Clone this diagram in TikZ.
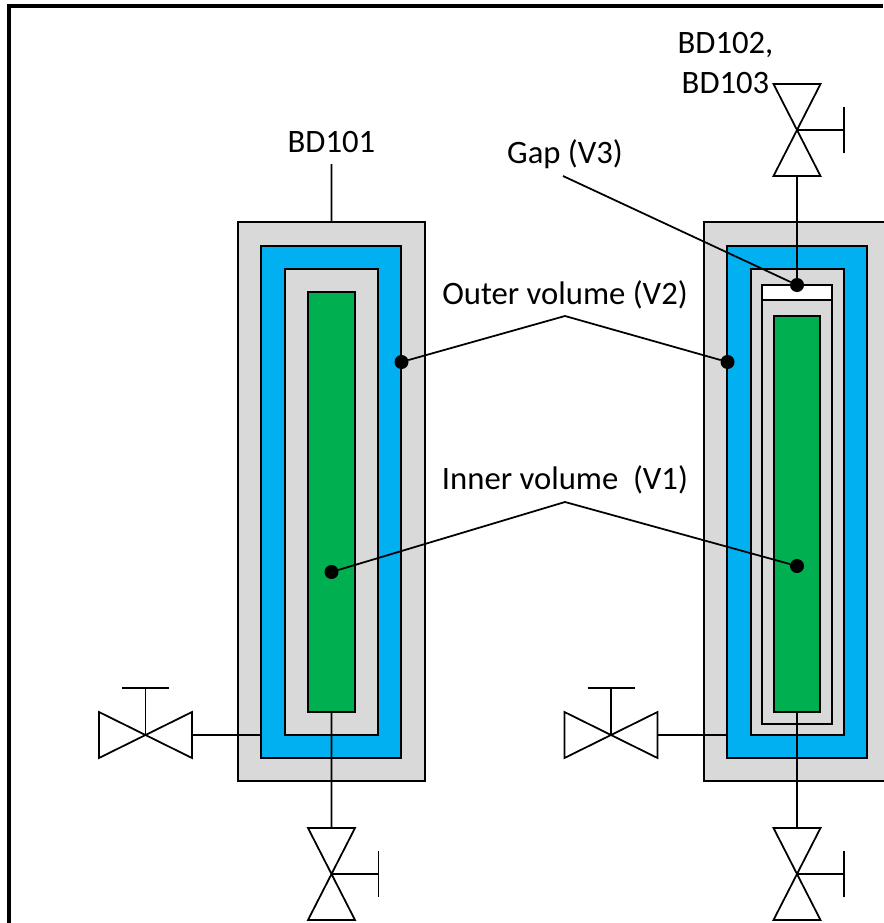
\documentclass[tikz,border=0pt]{standalone}
\usepackage{fontspec}
\setmainfont{Carlito}
\usepackage{xcolor}
\usepackage{tikz}
\definecolor{shellgray}{HTML}{D9D9D9}
\definecolor{jacketblue}{HTML}{00B0F0}
\definecolor{coregreen}{HTML}{00B050}
\tikzset{
x=0.02cm, % one unit is one pixel of the layout
y=-0.02cm,
every node/.style={inner sep=0pt, outer sep=0pt},
wall/.style={draw=black, line width=1.1pt, rectangle},
shell/.style={wall, fill=shellgray}, % grey walls
jacket/.style={wall, fill=jacketblue}, % outer volume
core/.style={wall, fill=coregreen}, % inner volume
gapbox/.style={wall, fill=white},
label/.style={font=\fontsize{18.6}{22}\selectfont, text=black},
dot/.style={circle, fill=black, minimum size=0.28cm},
leader/.style={draw=black, line width=1pt},
valvedown/.pic={ % body vertical, handle to the right
\draw[leader, fill=white, line join=miter] (-23.5,-46) -- (23.5,-46) -- (-23.5,46) -- (23.5,46) -- cycle;
\draw[leader] (0,0) -- (47,0) (47,-23) -- (47,23);
\coordinate (-top) at (0,-46);
\coordinate (-bottom) at (0,46);
},
valveside/.pic={ % body horizontal, handle on top
\draw[leader, fill=white, line join=miter] (-46.5,-23) -- (-46.5,23) -- (46.5,-23) -- (46.5,23) -- cycle;
\draw[leader] (0,0) -- (0,-47) (-23.5,-47) -- (23.5,-47);
\coordinate (-right) at (46.5,0);
},
}

\begin{document}
\begin{tikzpicture}
        \useasboundingbox (0,0) rectangle (883,923);
        \coordinate (framea) at (9,923);
        \coordinate (frameb) at (9,6);
        \coordinate (framec) at (883,6);
        \draw[line width=1.8pt] (framea) -- (frameb) -- (framec);

        % left vessel
        \node[shell, minimum width=3.74cm, minimum height=11.18cm] (outerA) at (331.5,501.5) {};
        \node[jacket, minimum width=2.80cm, minimum height=10.24cm] (jacketA) at (331,502) {};
        \node[shell, minimum width=1.86cm, minimum height=9.32cm] (wallA) at (331.5,502) {};
        \node[core, minimum width=0.94cm, minimum height=8.40cm] (coreA) at (331.5,502) {};

        % right vessel
        \node[shell, minimum width=3.74cm, minimum height=11.18cm] (outerB) at (797.5,501.5) {};
        \node[jacket, minimum width=2.80cm, minimum height=10.24cm] (jacketB) at (797,502) {};
        \node[shell, minimum width=1.86cm, minimum height=9.32cm] (wallB) at (797.5,502) {};
        \node[gapbox, minimum width=1.40cm, minimum height=8.78cm] (gapB) at (797,504.5) {};
        \node[shell, minimum width=1.40cm, minimum height=8.48cm] (innerB) at (797,512) {};
        \node[core, minimum width=0.92cm, minimum height=7.92cm] (coreB) at (797,514) {};

        % valves
        \pic (valveA) at (331.5,874) {valvedown};
        \pic (valveB) at (797,874) {valvedown};
        \pic (valveC) at (797,130) {valvedown};
        \pic (valveD) at (145.5,735) {valveside};
        \pic (valveE) at (611,735) {valveside};

        % dots
        \node[dot] (dotouterA) at (401.5,362) {};
        \node[dot] (dotouterB) at (727.5,362) {};
        \node[dot] (dotinnerA) at (331.5,572) {};
        \node[dot] (dotinnerB) at (797,566) {};
        \node[dot] (dotgap) at (797,285) {};

        % labels
        \node[label] (tagA) at (331.5,142) {BD101};
        \node[label] (tagB) at (725.5,45) {BD102,};
        \node[label] (tagC) at (725.5,83) {BD103};
        \node[label] (gaptext) at (565,154) {Gap (V3)};
        \node[label] (outertext) at (565,295) {Outer volume (V2)};
        \node[label] (innertext) at (565,480) {Inner volume\ \ (V1)};

        \coordinate (tagfoot) at (331.5,164);
        \coordinate (gapfoot) at (563,176);
        \coordinate (outerfoot) at (565,316);
        \coordinate (innerfoot) at (565,502);

        \draw[leader] (tagfoot) -- (outerA.north -| tagfoot)
              (valveC-bottom) -- (dotgap)
              (coreA.south) -- (valveA-top)
              (coreB.south) -- (valveB-top)
              (valveD-right) -- (valveD-right -| jacketA.west)
              (valveE-right) -- (valveE-right -| jacketB.west)
              (gapfoot) -- (dotgap)
              (dotouterA) -- (outerfoot) -- (dotouterB)
              (dotinnerA) -- (innerfoot) -- (dotinnerB);
    \end{tikzpicture}
\end{document}
